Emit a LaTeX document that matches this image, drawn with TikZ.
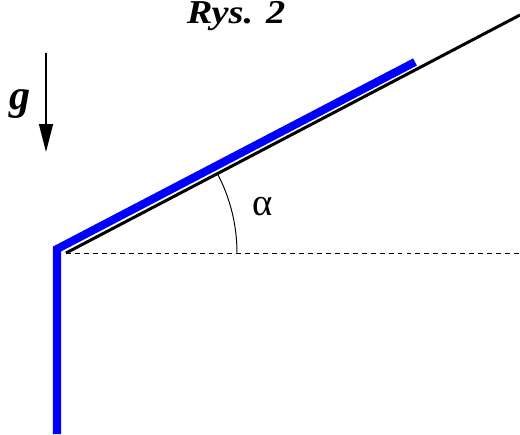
\documentclass[tikz,border=0pt]{standalone}
\usepackage{fontspec}
\newfontfamily\labelfont{Liberation Serif}
\newfontfamily\titlefont[FakeStretch=1.15]{Liberation Serif}
\usetikzlibrary{arrows.meta,calc,positioning}

\begin{document}
\begin{tikzpicture}[x=0.02cm,y=0.02cm,
  incline/.style={black,line width=1.7pt},
  rod/.style={blue,line width=4.6pt,line join=miter},
  level/.style={black,line width=.5pt,dash pattern=on 2.8pt off 2.3pt},
  angarc/.style={black,line width=.55pt},
  gravity/.style={black,line width=.8pt,-{Triangle[length=.56cm,width=.28cm]}},
  caption/.style={font=\titlefont\bfseries\itshape\fontsize{19}{23}\selectfont}
]
\useasboundingbox (0,0) rectangle (520,434);
\coordinate (O) at (66,181);
\coordinate (top) at (520,419);
\coordinate (right) at (520,181);
\coordinate (foot) at (57,0);
\coordinate (knee) at (57,185);
\coordinate (tip) at (415,372);
\coordinate (gtop) at (46,381);
\coordinate (gbot) at (46,282);
\draw[level] (O) -- (right);
\draw[incline] (O) -- (top);
\draw[rod] (foot) -- (knee) -- (tip);
\draw[angarc] ($(O)+(171,0)$) arc[start angle=0,end angle=27.67,radius=3.42cm];
\draw[gravity] (gtop) -- (gbot);
\node[font=\labelfont\bfseries\itshape\fontsize{24}{28}\selectfont] (glabel) at (20,330) {g};
\node[font=\labelfont\fontsize{22}{26}\selectfont] (alpha) at (263,227) {α};
\node[caption,anchor=base] (title) at (236,410.5) {Rys. 2};
\end{tikzpicture}
\end{document}
